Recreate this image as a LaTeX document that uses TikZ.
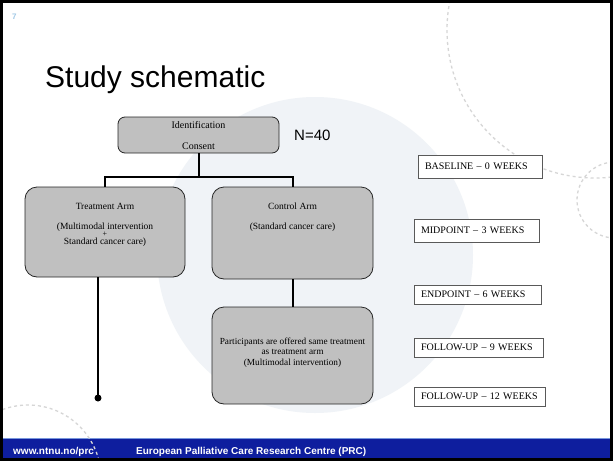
\documentclass[tikz,border=0pt]{standalone}
\usepackage{fontspec}
\setmainfont{Liberation Serif}
\newfontfamily\arialf{Liberation Sans}
\definecolor{boxgray}{RGB}{192,192,192}
\definecolor{footblue}{RGB}{14,30,158}
\definecolor{footedge}{RGB}{120,150,220}
\definecolor{numblue}{RGB}{160,200,230}
\definecolor{wmark}{RGB}{240,243,247}
\definecolor{dashgray}{RGB}{214,214,214}
\begin{document}
\begin{tikzpicture}[x=1pt,y=-1pt,
  gbox/.style={draw=black!85, line width=0.8pt, fill=boxgray, rounded corners=12pt, inner sep=0pt},
  tbox/.style={draw=black!65, line width=0.8pt, fill=white, inner ysep=0pt, inner xsep=7pt, align=left, font=\fontsize{10}{12}\selectfont},
  txt/.style={inner sep=0pt, font=\fontsize{9.5}{11}\selectfont},
  conn/.style={line width=2pt, black},
  dashline/.style={draw=dashgray, line width=1.3pt, dash pattern=on 3pt off 3pt},
  foottext/.style={anchor=base west, inner sep=0pt, text=white, font=\arialf\bfseries\fontsize{10}{12}\selectfont},
]
\useasboundingbox (0,0) rectangle (613,461);
\fill[white] (0,0) rectangle (613,461);
% background decoration
\begin{scope}
  \clip (0,0) rectangle (613,461);
  \fill[wmark] (315,255) circle (158);
  \draw[dashline] (595,30) circle (148);
  \draw[dashline] (615,200) circle (38);
\end{scope}
% footer
\fill[footblue] (0,438) rectangle (613,461);
\draw[footedge, line width=1pt] (0,438.5) -- (613,438.5);
\begin{scope}
  \clip (0,0) rectangle (613,461);
  \draw[dashline] (28,478) circle (73);
\end{scope}
\node[foottext] (url) at (13,454) {www.ntnu.no/prc};
\node[foottext] (prc) at (136,454) {European Palliative Care Research Centre (PRC)};
% slide number and title
\node[anchor=base west, inner sep=0pt, text=numblue, font=\arialf\bfseries\fontsize{8}{9}\selectfont] (num) at (12,19) {7};
\node[anchor=base west, inner sep=0pt, font=\arialf\fontsize{30}{36}\selectfont] (title) at (45,87) {Study schematic};
\node[anchor=base west, inner sep=0pt, font=\arialf\fontsize{15}{18}\selectfont] (nforty) at (294,140) {N=40};
% gray boxes
\node[gbox, rounded corners=7pt, minimum width=161pt, minimum height=36pt] (ident) at (198.5,135) {};
\node[txt, font=\fontsize{10}{12}\selectfont] (identa) at (198.5,125) {Identification};
\node[txt, font=\fontsize{10}{12}\selectfont] (identb) at (198.5,146.5) {Consent};
\node[gbox, minimum width=160pt, minimum height=90pt] (treat) at (105,232) {};
\node[txt] (treata) at (105,206) {Treatment Arm};
\node[txt, align=center, font=\fontsize{9.5}{7.6}\selectfont] (treatb) at (105,234.5) {(Multimodal intervention\\{\fontsize{8}{7.6}\selectfont +}\\Standard cancer care)};
\node[gbox, minimum width=161pt, minimum height=92pt] (ctrl) at (292.5,233) {};
\node[txt] (ctrla) at (292.5,206) {Control Arm};
\node[txt] (ctrlb) at (292.5,227) {(Standard cancer care)};
\node[gbox, minimum width=161pt, minimum height=97pt] (part) at (292.5,355.5) {};
\node[txt, align=center, font=\fontsize{9.3}{10.6}\selectfont] (parta) at (292.5,352.5) {Participants are offered same treatment\\as treatment arm\\(Multimodal intervention)};
% connectors
\draw[conn] (ident.south) -- ++(0,24) coordinate (j);
\draw[conn] (treat.north) |- (j) -| (ctrl.north);
\draw[conn] (ctrl.south) -- (part.north);
\coordinate (tend) at (98,398);
\draw[conn] (treat.south -| tend) -- (tend);
\fill (tend) circle (3.5);
% time point boxes
\node[tbox, text width=110pt, minimum height=23pt] (base) at (480,166.5) {BASELINE -- 0 WEEKS};
\node[tbox, text width=111pt, minimum height=23pt] (mid) at (476.5,230.5) {MIDPOINT -- 3 WEEKS};
\node[tbox, text width=113pt, minimum height=19pt] (endp) at (477.5,294.5) {ENDPOINT -- 6 WEEKS};
\node[tbox, text width=115pt, minimum height=19pt] (fnine) at (478.5,347.5) {FOLLOW-UP -- 9 WEEKS};
\node[tbox, text width=117pt, minimum height=19pt] (ftwelve) at (479.5,396.5) {FOLLOW-UP -- 12 WEEKS};
% frame
\draw[line width=3pt] (1.5,1.5) rectangle (611.5,459.5);
\end{tikzpicture}
\end{document}
